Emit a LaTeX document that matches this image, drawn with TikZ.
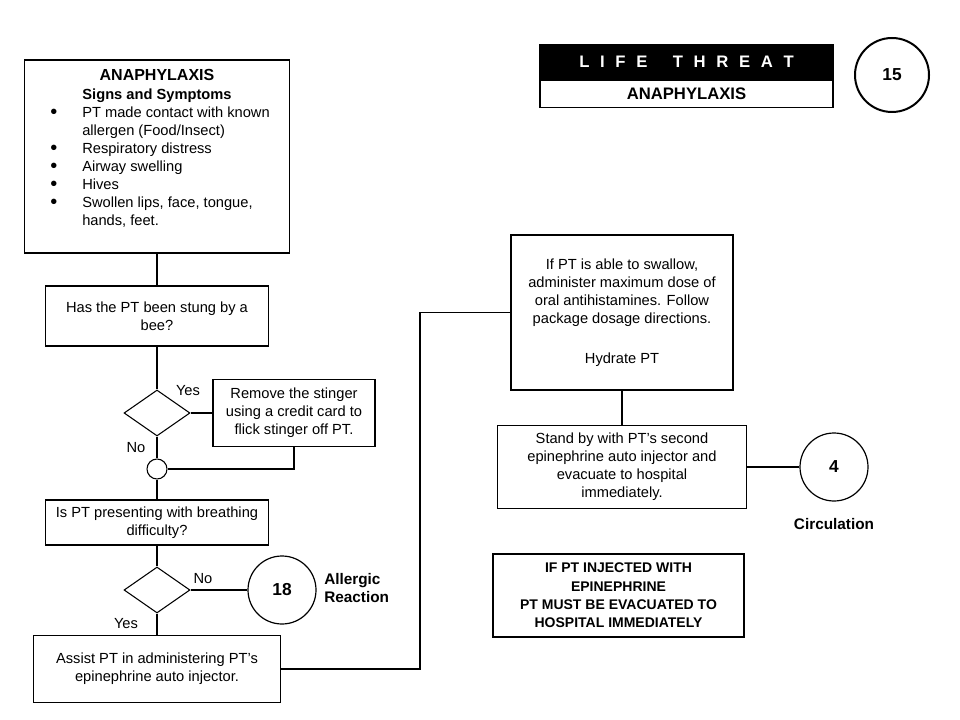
\documentclass[tikz,border=0pt]{standalone}
\usepackage{fontspec}
\setmainfont{Liberation Sans}
\usetikzlibrary{positioning,shapes.geometric}
\newcommand{\gap}{\hspace{8pt}}
\newcommand{\itm}{\makebox[24pt][l]{\raisebox{-0.6pt}{\fontsize{15}{13.5}\selectfont\textbullet}}}

\begin{document}
\begin{tikzpicture}[x=0.75pt,y=-0.75pt,
  box/.style={draw,line width=0.8pt,inner sep=0pt,align=center,font=\fontsize{11}{13.5}\selectfont},
  decision/.style={draw,diamond,line width=0.8pt,inner sep=0pt,minimum width=49.5pt,minimum height=34.5pt},
  link/.style={draw,circle,line width=0.9pt,inner sep=0pt,minimum size=51pt,font=\fontsize{13}{15}\selectfont\bfseries},
  lbl/.style={inner sep=0pt,font=\fontsize{11}{13.5}\selectfont},
  conn/.style={line width=0.8pt}]

\useasboundingbox (0,0) rectangle (960,720);

% header
\node[fill=black,draw=black,line width=1pt,minimum width=219.75pt,minimum height=25.5pt,inner sep=0pt,text=white,font=\fontsize{12.5}{15}\selectfont\bfseries] (threat) at (686.5,62) {L\gap I\gap F\gap E\hspace{19pt}T\gap H\gap R\gap E\gap A\gap T};
\node[draw,line width=1pt,minimum width=219.75pt,minimum height=20.25pt,inner sep=0pt,font=\fontsize{12.5}{15}\selectfont\bfseries,below=0pt of threat] (threatname) {ANAPHYLAXIS};
\node[link,line width=1.5pt,minimum size=55.5pt] (page) at (892,75) {15};

% signs and symptoms
\node[box,minimum width=198.75pt,minimum height=144.75pt] (signs) at (157,156.5) {};
\node[lbl,align=center,below=7pt of signs.north,font=\fontsize{11}{14.25}\selectfont\bfseries] (signshead) {{\fontsize{12}{14.25}\selectfont ANAPHYLAXIS}\\Signs and Symptoms};
\node[lbl,anchor=north west,align=left] (signslist) at (50,106.5) {\itm PT made contact with known\\
\hspace*{24pt}allergen (Food/Insect)\\
\itm Respiratory distress\\
\itm Airway swelling\\
\itm Hives\\
\itm Swollen lips, face, tongue,\\
\hspace*{24pt}hands, feet.};

% left column
\node[box,minimum width=167.25pt,minimum height=45pt] (q1) at (157,316) {Has the PT been stung by a\\bee?};
\node[decision] (d1) at (157,413) {};
\node[box,minimum width=121.5pt,minimum height=50.25pt] (stinger) at (294,413) {Remove the stinger\\using a credit card to\\flick stinger off PT.};
\node[draw,circle,line width=0.8pt,inner sep=0pt,minimum size=15pt] (join) at (157,469) {};
\node[box,minimum width=167.25pt,minimum height=33.75pt] (q2) at (157,522.5) {Is PT presenting with breathing\\difficulty?};
\node[decision] (d2) at (157,590) {};
\node[link] (allergic) at (282,590) {18};
\node[lbl,anchor=west,align=left,font=\fontsize{11.5}{13.5}\selectfont\bfseries] (allergiclbl) at (324,588) {Allergic\\Reaction};
\node[box,minimum width=185.25pt,minimum height=50.25pt] (assist) at (157,669) {Assist PT in administering PT's\\epinephrine auto injector.};

\node[lbl] (yes1) at (188,391) {Yes};
\node[lbl] (no1) at (136,448) {No};
\node[lbl] (no2) at (203,579) {No};
\node[lbl] (yes2) at (126,624) {Yes};

% right column
\node[box,minimum width=166.5pt,minimum height=116.25pt] (antihist) at (622,312.5) {If PT is able to swallow,\\administer maximum dose of\\oral antihistamines. Follow\\package dosage directions.\\[16.5pt]Hydrate PT};
\node[box,minimum width=186.75pt,minimum height=62.25pt] (standby) at (622,467) {Stand by with PT's second\\epinephrine auto injector and\\evacuate to hospital\\immediately.};
\node[link] (circulation) at (834,467) {4};
\node[lbl,font=\fontsize{11.5}{13.5}\selectfont\bfseries] (circulationlbl) at (834,524) {Circulation};
\node[box,minimum width=188.25pt,minimum height=62.25pt,font=\fontsize{10.5}{13.7}\selectfont\bfseries] (warning) at (618.5,595.5) {IF PT INJECTED WITH\\EPINEPHRINE\\PT MUST BE EVACUATED TO\\HOSPITAL IMMEDIATELY};

% connectors
\coordinate (bend) at (420,669);
\draw[conn] (signs) -- (q1);
\draw[conn] (q1) -- (d1);
\draw[conn] (d1) -- (stinger);
\draw[conn] (d1) -- (join);
\draw[conn] (stinger) |- (join);
\draw[conn] (join) -- (q2);
\draw[conn] (q2) -- (d2);
\draw[conn] (d2) -- (allergic);
\draw[conn] (d2) -- (assist);
\draw[conn] (assist) -- (bend) |- (antihist);
\draw[conn] (antihist) -- (standby);
\draw[conn] (standby) -- (circulation);
\end{tikzpicture}
\end{document}
